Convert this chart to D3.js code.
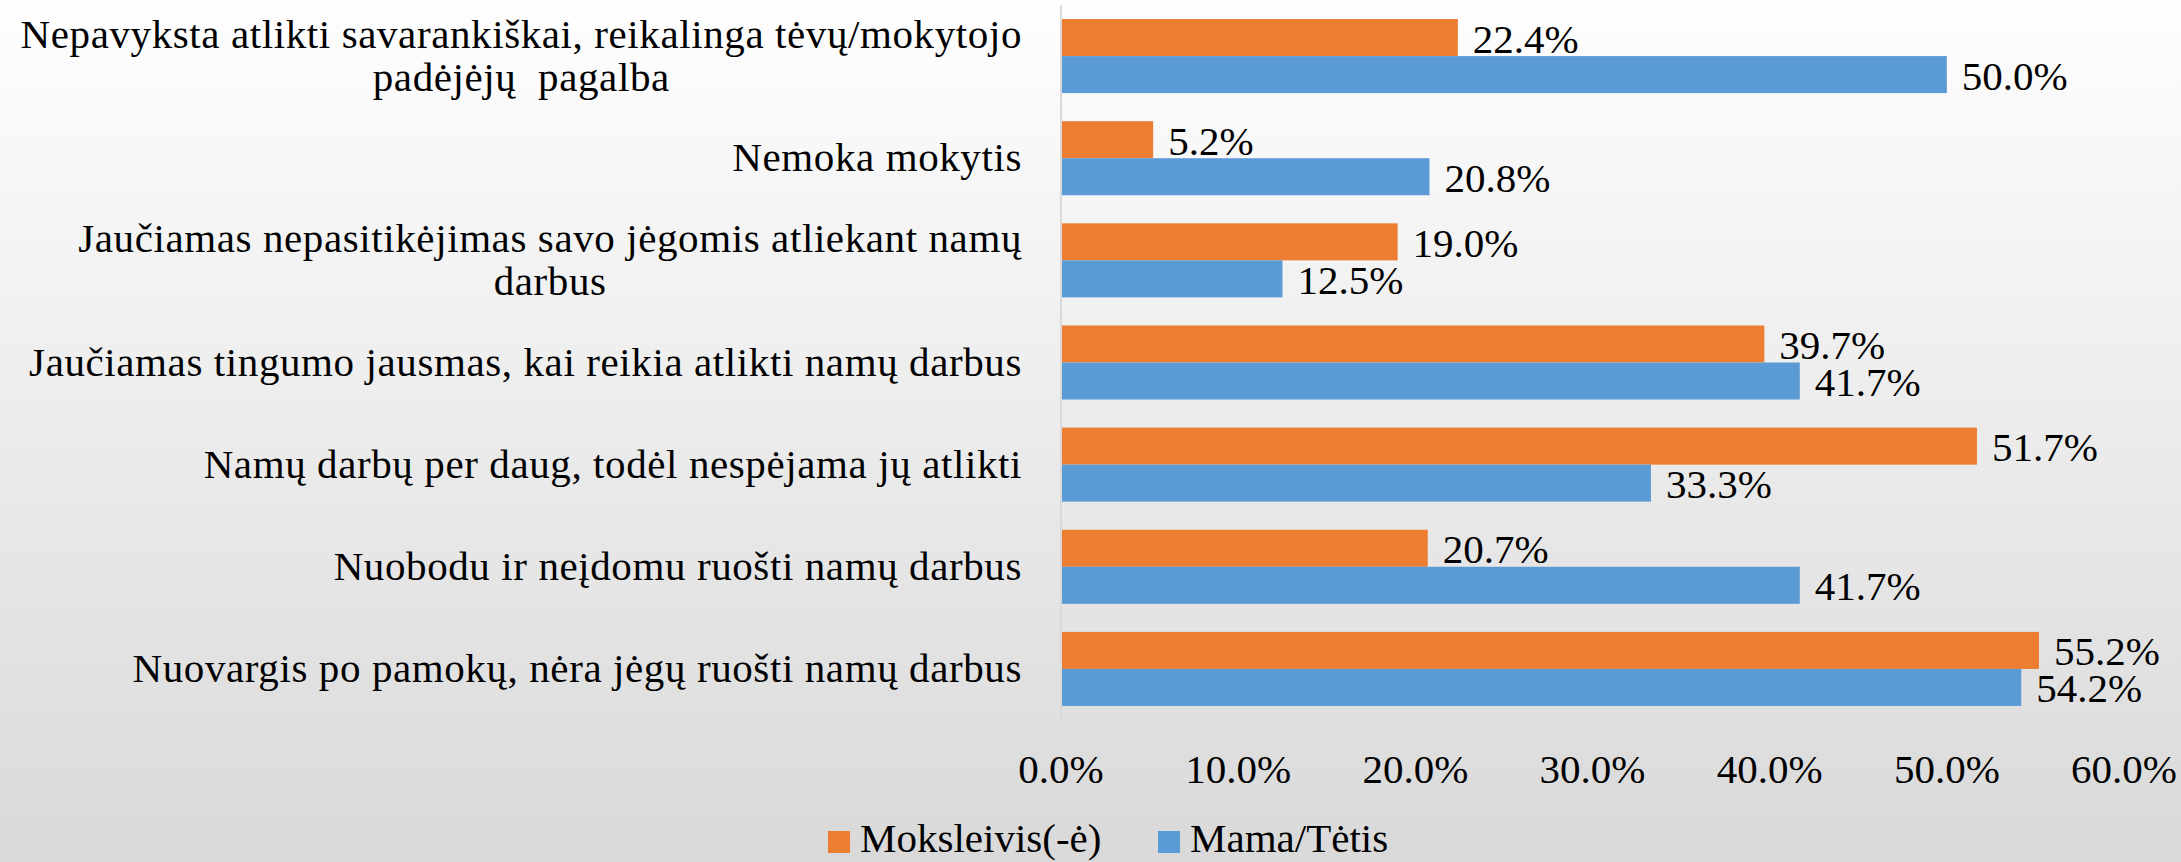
<!DOCTYPE html>
<meta http-equiv="Content-type" content="text/html; charset=UTF-8"/>
<style>
  body { margin: 0; }
  svg text { font-family: "Times New Roman", Tinos, "Liberation Serif", "Noto Serif", "DejaVu Serif", serif; }
</style>
<svg width="2181" height="862"></svg>
<script src="https://d3js.org/d3.v7.min.js"></script>
<script>
var categories = [
  ["Nepavyksta atlikti savarankiškai, reikalinga tėvų/mokytojo", "padėjėjų  pagalba"],
  ["Nemoka mokytis"],
  ["Jaučiamas nepasitikėjimas savo jėgomis atliekant namų", "darbus"],
  ["Jaučiamas tingumo jausmas, kai reikia atlikti namų darbus"],
  ["Namų darbų per daug, todėl nespėjama jų atlikti"],
  ["Nuobodu ir neįdomu ruošti namų darbus"],
  ["Nuovargis po pamokų, nėra jėgų ruošti namų darbus"]
];
var seriesNames = ["Moksleivis(-ė)", "Mama/Tėtis"];
var moksleivis = [22.4, 5.2, 19.0, 39.7, 51.7, 20.7, 55.2];
var tevai = [50.0, 20.8, 12.5, 41.7, 33.3, 41.7, 54.2];
var ticks = [0, 10, 20, 30, 40, 50, 60];
var colors = ["#ED7D31", "#5B9BD5"];

var svg = d3.select("svg"),
    W = +svg.attr("width"), H = +svg.attr("height");

var grad = svg.append("defs").append("linearGradient")
    .attr("id", "bg").attr("x1", 0).attr("y1", 0).attr("x2", 0).attr("y2", 1);
grad.append("stop").attr("offset", "0%").attr("stop-color", "#fefefe");
grad.append("stop").attr("offset", "100%").attr("stop-color", "#d9d9d9");
svg.append("rect").attr("width", W).attr("height", H).attr("fill", "url(#bg)");

var keys = d3.range(categories.length);

var x = d3.scaleLinear().domain([0, 60]).range([1061, 2124]);
var y = d3.scaleBand().domain(keys).range([5, 720])
    .paddingInner(0.275).paddingOuter(0.1375);
var ys = d3.scaleBand().domain([0, 1]).range([0, y.bandwidth()]);

var values = [moksleivis, tevai];
var fs = 41;

// bars
values.forEach(function(vals, s) {
  svg.append("g").selectAll("rect")
    .data(vals)
    .join("rect")
      .attr("x", x(0))
      .attr("y", function(d, i) { return y(i) + ys(s); })
      .attr("width", function(d) { return x(d) - x(0); })
      .attr("height", ys.bandwidth())
      .attr("fill", colors[s]);

  svg.append("g").selectAll("text")
    .data(vals)
    .join("text")
      .attr("x", function(d) { return x(d) + 15; })
      .attr("y", function(d, i) { return y(i) + ys(s) + ys.bandwidth() / 2 + 15; })
      .style("font-size", fs + "px")
      .text(function(d) { return d.toFixed(1) + "%"; });
});

// vertical axis line
svg.append("line")
    .attr("x1", x(0)).attr("x2", x(0))
    .attr("y1", 5).attr("y2", 720)
    .attr("stroke", "#d9d9d9").attr("stroke-width", 2);

// category labels, lines centred inside a right-aligned block
var labelRight = 1022;
categories.forEach(function(lines, i) {
  var g = svg.append("g");
  var t = g.selectAll("text").data(lines).join("text")
      .style("font-size", fs + "px")
      .style("letter-spacing", "0.6px")
      .style("white-space", "pre")
      .attr("text-anchor", "middle")
      .text(function(d) { return d; });
  var wmax = d3.max(t.nodes(), function(n) { return n.getComputedTextLength(); });
  var lh = 43;
  var cy = y(i) + y.bandwidth() / 2;
  var y0 = cy - (lines.length - 1) * lh / 2 + 13;
  t.attr("x", labelRight - wmax / 2)
   .attr("y", function(d, j) { return y0 + j * lh; });
});

// x tick labels
svg.append("g").selectAll("text")
  .data(ticks)
  .join("text")
    .attr("x", function(d) { return x(d); })
    .attr("y", 783)
    .attr("text-anchor", "middle")
    .style("font-size", fs + "px")
    .text(function(d) { return d.toFixed(1) + "%"; });

// legend
var legX = [828, 1158];
seriesNames.forEach(function(name, s) {
  svg.append("rect")
    .attr("x", legX[s]).attr("y", 831)
    .attr("width", 22).attr("height", 22)
    .attr("fill", colors[s]);
  svg.append("text")
    .attr("x", legX[s] + 32).attr("y", 852)
    .style("font-size", fs + "px")
    .text(name);
});
</script>
